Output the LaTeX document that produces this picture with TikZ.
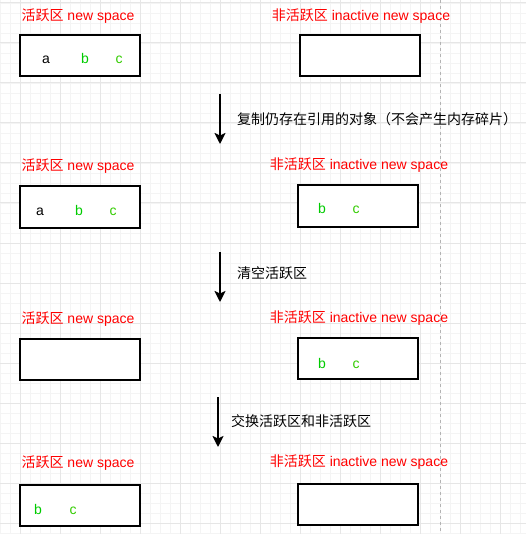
\documentclass[tikz,border=0pt]{standalone}
\usepackage{fontspec}
\setmainfont{Liberation Sans}
\newfontfamily\cjk{Noto Sans CJK SC}
\usetikzlibrary{arrows.meta}
\definecolor{gmajor}{HTML}{E6E6E6}
\definecolor{gminor}{HTML}{F4F4F4}
\definecolor{greenb}{HTML}{00CC00}
\definecolor{greenc}{HTML}{33CC00}
\definecolor{dashgray}{HTML}{B3B3B3}
\tikzset{
  every node/.style={inner sep=0pt, outer sep=0pt, font=\fontsize{14}{16}\selectfont},
  spacebox/.style={draw=black, line width=2pt, fill=white, minimum width=120pt, minimum height=41pt, anchor=north west},
  areatitle/.style={text=red, text height=10pt, text depth=3pt, anchor=center},
  letter/.style={anchor=base},
  steparrow/.style={line width=2pt, -{Stealth[length=11pt,width=11pt,inset=2.5pt]}},
  steplabel/.style={anchor=west, text height=10pt, text depth=3pt, text=black}
}
\begin{document}
\begin{tikzpicture}[x=1pt,y=-1pt]
\useasboundingbox (0,0) rectangle (526,534);
\fill[white] (0,0) rectangle (526,534);
% grid
\foreach \x in {0,10,...,520} \draw[gminor, line width=0.8pt] (\x,0) -- (\x,534);
\foreach \y in {3,13,...,533} \draw[gminor, line width=0.8pt] (0,\y) -- (526,\y);
\foreach \x in {20,60,...,500} \draw[gmajor, line width=1pt] (\x,0) -- (\x,534);
\foreach \y in {3,43,...,523} \draw[gmajor, line width=1pt] (0,\y) -- (526,\y);
% dashed page boundary
\draw[dashgray, line width=1pt, dash pattern=on 3pt off 3pt] (440,0) -- (440,534);

% Row 1
\node[areatitle] (t1l) at (78,17) {{\cjk 活跃区} new space};
\node[areatitle] (t1r) at (361,17) {{\cjk 非活跃区} inactive new space};
\node[spacebox] (b1l) at (20,35.5) {};
\node[spacebox] (b1r) at (300,35.5) {};
\node[letter] (l1a) at (46,64) {a};
\node[letter, text=greenb] (l1b) at (85,64) {b};
\node[letter, text=greenc] (l1c) at (119,64) {c};

% Arrow 1
\coordinate (a1s) at (220,94);
\coordinate (a1e) at (220,144);
\draw[steparrow] (a1s) -- (a1e);
\node[steplabel] (s1) at (237,121) {\cjk 复制仍存在引用的对象（不会产生内存碎片）};

% Row 2
\node[areatitle] (t2l) at (78,167) {{\cjk 活跃区} new space};
\node[areatitle] (t2r) at (359,166) {{\cjk 非活跃区} inactive new space};
\node[spacebox] (b2l) at (20,186.5) {};
\node[spacebox] (b2r) at (298,185.5) {};
\node[letter] (l2a) at (40,215) {a};
\node[letter, text=greenb] (l2b) at (79,215) {b};
\node[letter, text=greenc] (l2c) at (113,215) {c};
\node[letter, text=greenb] (r2b) at (322,214) {b};
\node[letter, text=greenc] (r2c) at (356,214) {c};

% Arrow 2
\coordinate (a2s) at (220,252);
\coordinate (a2e) at (220,302);
\draw[steparrow] (a2s) -- (a2e);
\node[steplabel] (s2) at (237,275) {\cjk 清空活跃区};

% Row 3
\node[areatitle] (t3l) at (78,320) {{\cjk 活跃区} new space};
\node[areatitle] (t3r) at (359,319) {{\cjk 非活跃区} inactive new space};
\node[spacebox] (b3l) at (20,339) {};
\node[spacebox] (b3r) at (298,338) {};
\node[letter, text=greenb] (r3b) at (322,368) {b};
\node[letter, text=greenc] (r3c) at (356,368) {c};

% Arrow 3
\coordinate (a3s) at (218,397);
\coordinate (a3e) at (218,447);
\draw[steparrow] (a3s) -- (a3e);
\node[steplabel] (s3) at (231,423) {\cjk 交换活跃区和非活跃区};

% Row 4
\node[areatitle] (t4l) at (78,464) {{\cjk 活跃区} new space};
\node[areatitle] (t4r) at (359,463) {{\cjk 非活跃区} inactive new space};
\node[spacebox] (b4l) at (20,484.5) {};
\node[spacebox] (b4r) at (298,483.5) {};
\node[letter, text=greenb] (l4b) at (38,514) {b};
\node[letter, text=greenc] (l4c) at (73,514) {c};
\end{tikzpicture}
\end{document}
